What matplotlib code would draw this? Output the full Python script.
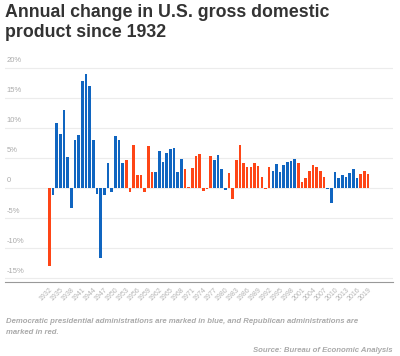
import matplotlib.pyplot as plt

years = list(range(1932, 2020))
gdp_change = [
    -12.9, -1.2, 10.8, 8.9, 12.9, 5.1, -3.3, 8.0, 8.8, 17.7,
    18.9, 17.0, 8.0, -1.0, -11.6, -1.1, 4.1, -0.6, 8.7, 8.0,
    4.1, 4.7, -0.6, 7.1, 2.1, 2.1, -0.7, 6.9, 2.6, 2.6,
    6.1, 4.4, 5.8, 6.5, 6.6, 2.7, 4.9, 3.1, 0.2, 3.3,
    5.3, 5.6, -0.5, -0.2, 5.4, 4.6, 5.5, 3.2, -0.3, 2.5,
    -1.8, 4.6, 7.2, 4.2, 3.5, 3.5, 4.2, 3.7, 1.9, -0.1,
    3.5, 2.8, 4.0, 2.7, 3.8, 4.4, 4.5, 4.8, 4.1, 1.0,
    1.7, 2.9, 3.8, 3.5, 2.9, 1.9, -0.1, -2.5, 2.6, 1.6,
    2.2, 1.8, 2.5, 3.1, 1.7, 2.3, 2.9, 2.3,
]
# party colouring as shown in the original chart: D = blue, R = red
party = (
    "R" + "D" * 20 + "R" * 8 + "D" * 8 + "R" * 8 + "D" * 4
    + "R" * 12 + "D" * 7 + "R" * 8 + "D" * 9 + "R" * 3
)
tick_years = list(range(1932, 2020, 3))
y_ticks = [20, 15, 10, 5, 0, -5, -10, -15]
y_tick_labels = ["20%", "15%", "10%", "5%", "0", "-5%", "-10%", "-15%"]

BLUE = "#1065c0"
RED = "#fe4516"
colors = [BLUE if p == "D" else RED for p in party]

fig = plt.figure(figsize=(4, 3.56), dpi=100)
plt.rcParams['font.family'] = ['Liberation Sans', 'DejaVu Sans']

ax = fig.add_axes([0.0125, 0.207, 0.97, 0.62])
ax.bar(years, gdp_change, width=0.72, color=colors, zorder=3)

ax.set_xlim(1919.9, 2025.8)
ax.set_ylim(-15.66, 21)

for y in y_ticks:
    ax.axhline(y, color="#ececec", linewidth=0.8, zorder=1)
for y, lab in zip(y_ticks, y_tick_labels):
    ax.text(0.004, y + 0.6, lab, transform=ax.get_yaxis_transform(),
            fontsize=5.5, color="#aaaaaa", va="bottom", ha="left")

ax.set_yticks([])
ax.set_xticks(tick_years)
ax.set_xticklabels([str(y) for y in tick_years], rotation=45, ha="right",
                   rotation_mode="anchor", fontsize=5, color="#b4b4b4")
ax.tick_params(axis="x", length=0, pad=3)

for side in ["top", "left", "right"]:
    ax.spines[side].set_visible(False)
ax.spines["bottom"].set_color("#999999")
ax.spines["bottom"].set_linewidth(0.8)

fig.text(0.0125, 1 - 4 / 356, "Annual change in U.S. gross domestic\nproduct since 1932",
         fontsize=12.8, fontweight="bold", color="#333333", va="top", ha="left",
         linespacing=1.22)

fig.text(0.015, 1 - 327 / 356,
         "Democratic presidential administrations are marked in blue, and Republican administrations are\nmarked in red.",
         fontsize=5.6, fontweight="bold", style="italic", color="#aaaaaa",
         va="center", ha="left", linespacing=1.8)
fig.text(0.982, 1 - 350 / 356, "Source: Bureau of Economic Analysis",
         fontsize=5.6, fontweight="bold", style="italic", color="#aaaaaa",
         va="center", ha="right")

fig.savefig("out.png", dpi=100)
